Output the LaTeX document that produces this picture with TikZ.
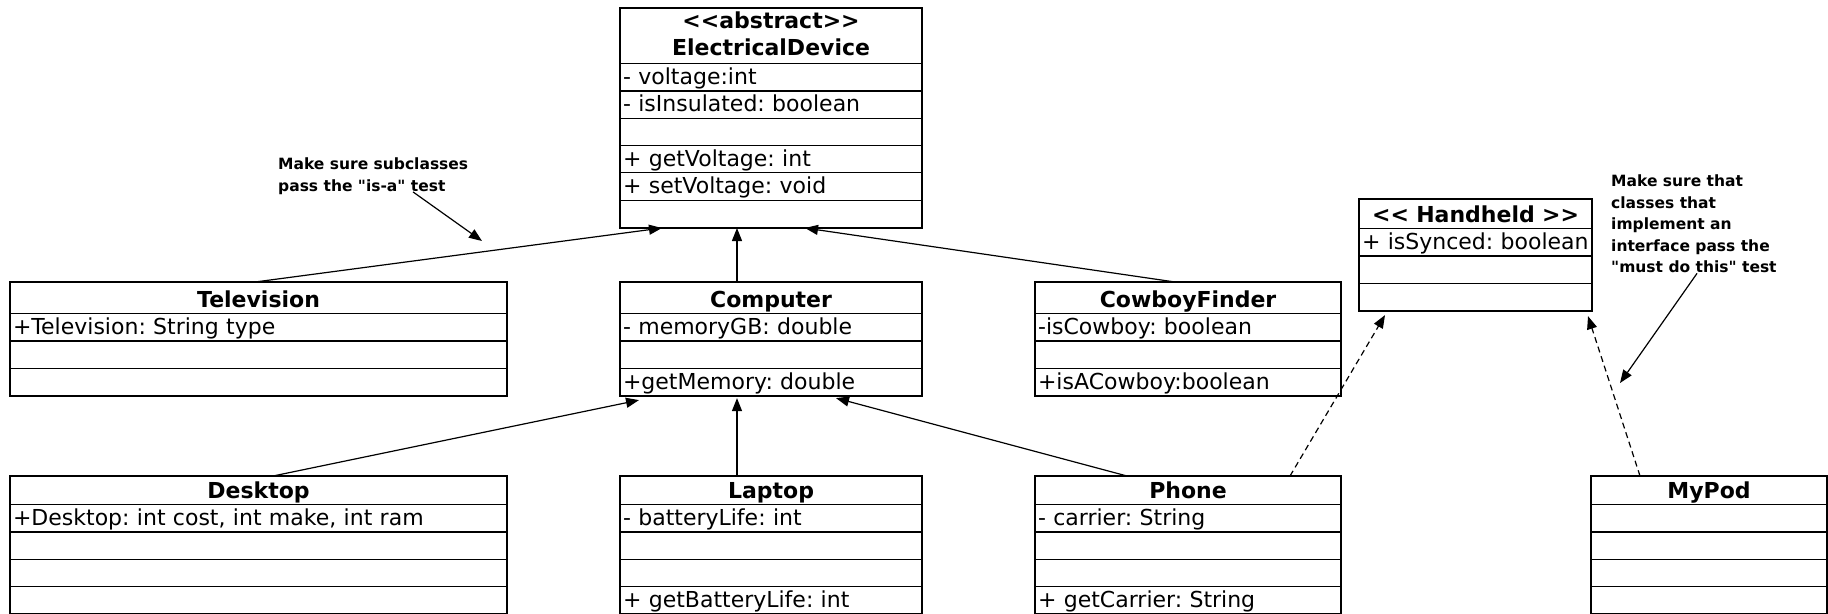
\documentclass[tikz,border=0pt]{standalone}
\usepackage{fontspec}
\setmainfont{DejaVu Sans}[Ligatures=TeXOff]
\usetikzlibrary{shapes.multipart,arrows.meta}
\frenchspacing
\tikzstyle{classBox}=[rectangle split, draw, line width=1.1pt, anchor=north west, inner xsep=2.5pt, inner ysep=0pt, align=left, font=\fontsize{22}{27}\selectfont]
\tikzstyle{noteText}=[anchor=north west, inner sep=0pt, align=left, font=\fontsize{15.5}{21.5}\selectfont\bfseries]
\newcommand{\hd}[1][30pt]{\rule[-6pt]{0pt}{#1}}
\newcommand{\rw}{\rule[-5.8pt]{0pt}{26.2pt}}
\newcommand{\ttl}[1]{\makebox[\hsize]{\textbf{#1}}}

\begin{document}
\begin{tikzpicture}[x=1pt, y=-1pt]
\tikzstyle{frameStyle}=[line width=2.2pt]
\tikzstyle{genEdge}=[line width=1.2pt, -{Triangle[length=13pt,width=10pt]}]
\tikzstyle{realEdge}=[genEdge, dash pattern=on 6pt off 4pt]
\useasboundingbox (0,0) rectangle (1828,613);
% top
\node[classBox, rectangle split parts=7, text width=296pt] (device) at (620,8)
  {\rule{0pt}{19pt}\ttl{<<abstract>>}\\\ttl{ElectricalDevice}\rule[-8pt]{0pt}{8pt}
   \nodepart{two}- voltage:int\rw
   \nodepart{three}- isInsulated: boolean\rw
   \nodepart{four}\rw
   \nodepart{five}+ getVoltage: int\rw
   \nodepart{six}+ setVoltage: void\rw
   \nodepart{seven}\rw};
\node[classBox, rectangle split parts=4, text width=227pt] (handheld) at (1359,199)
  {\ttl{<< Handheld >>}\hd[28pt]
   \nodepart{two}\mbox{+ isSynced: boolean}\rw
   \nodepart{three}\rw
   \nodepart{four}\rw};
% middle
\node[classBox, rectangle split parts=4, text width=491pt] (television) at (10,282)
  {\ttl{Television}\hd
   \nodepart{two}+Television: String type\rw
   \nodepart{three}\rw
   \nodepart{four}\rw};
\node[classBox, rectangle split parts=4, text width=296pt] (computer) at (620,282)
  {\ttl{Computer}\hd
   \nodepart{two}- memoryGB: double\rw
   \nodepart{three}\rw
   \nodepart{four}+getMemory: double\rw};
\node[classBox, rectangle split parts=4, text width=300pt] (cowboy) at (1035,282)
  {\ttl{CowboyFinder}\hd
   \nodepart{two}-isCowboy: boolean\rw
   \nodepart{three}\rw
   \nodepart{four}+isACowboy:boolean\rw};
% bottom
\node[classBox, rectangle split parts=5, text width=491pt] (desktop) at (10,476)
  {\ttl{Desktop}\hd[27pt]
   \nodepart{two}+Desktop: int cost, int make, int ram\rw
   \nodepart{three}\rw
   \nodepart{four}\rw
   \nodepart{five}\rw};
\node[classBox, rectangle split parts=5, text width=296pt] (laptop) at (620,476)
  {\ttl{Laptop}\hd[27pt]
   \nodepart{two}- batteryLife: int\rw
   \nodepart{three}\rw
   \nodepart{four}\rw
   \nodepart{five}+ getBatteryLife: int\rw};
\node[classBox, rectangle split parts=5, text width=300pt] (phone) at (1035,476)
  {\ttl{Phone}\hd[27pt]
   \nodepart{two}- carrier: String\rw
   \nodepart{three}\rw
   \nodepart{four}\rw
   \nodepart{five}+ getCarrier: String\rw};
\node[classBox, rectangle split parts=5, text width=230pt] (mypod) at (1591,476)
  {\ttl{MyPod}\hd[27pt]
   \nodepart{two}\rw
   \nodepart{three}\rw
   \nodepart{four}\rw
   \nodepart{five}\rw};
\foreach \c in {device,handheld,television,computer,cowboy,desktop,laptop,phone,mypod}
  \draw[frameStyle] (\c.north west) rectangle (\c.south east);
% notes
\node[noteText] (isaNote) at (278,158) {Make sure subclasses\\pass the "is-a" test};
\node[noteText] (mustNote) at (1611,175) {Make sure that\\classes that\\implement an\\interface pass the\\"must do this" test};
\coordinate (isaTip) at (482,241);
\coordinate (mustTip) at (1620,383);
% inheritance
\draw[genEdge] ([xshift=245pt]television.north west) -- ([xshift=42pt]device.south west);
\draw[genEdge] ([xshift=117pt]computer.north west) -- ([xshift=117pt]device.south west);
\draw[genEdge] ([xshift=140pt]cowboy.north west) -- ([xshift=185pt]device.south west);
\draw[genEdge] ([xshift=263pt]desktop.north west) -- ([xshift=19pt,yshift=-4pt]computer.south west);
\draw[genEdge] ([xshift=117pt]laptop.north west) -- ([xshift=117pt,yshift=-2pt]computer.south west);
\draw[genEdge] ([xshift=92pt]phone.north west) -- ([xshift=216pt,yshift=-2pt]computer.south west);
% interface
\draw[realEdge] ([xshift=255pt]phone.north west) -- ([xshift=26pt,yshift=-4pt]handheld.south west);
\draw[realEdge] ([xshift=49pt]mypod.north west) -- ([xshift=229pt,yshift=-5pt]handheld.south west);
% note arrows
\draw[genEdge] ([xshift=135pt,yshift=3pt]isaNote.south west) -- (isaTip);
\draw[genEdge] ([xshift=86pt]mustNote.south west) -- (mustTip);
\end{tikzpicture}
\end{document}
